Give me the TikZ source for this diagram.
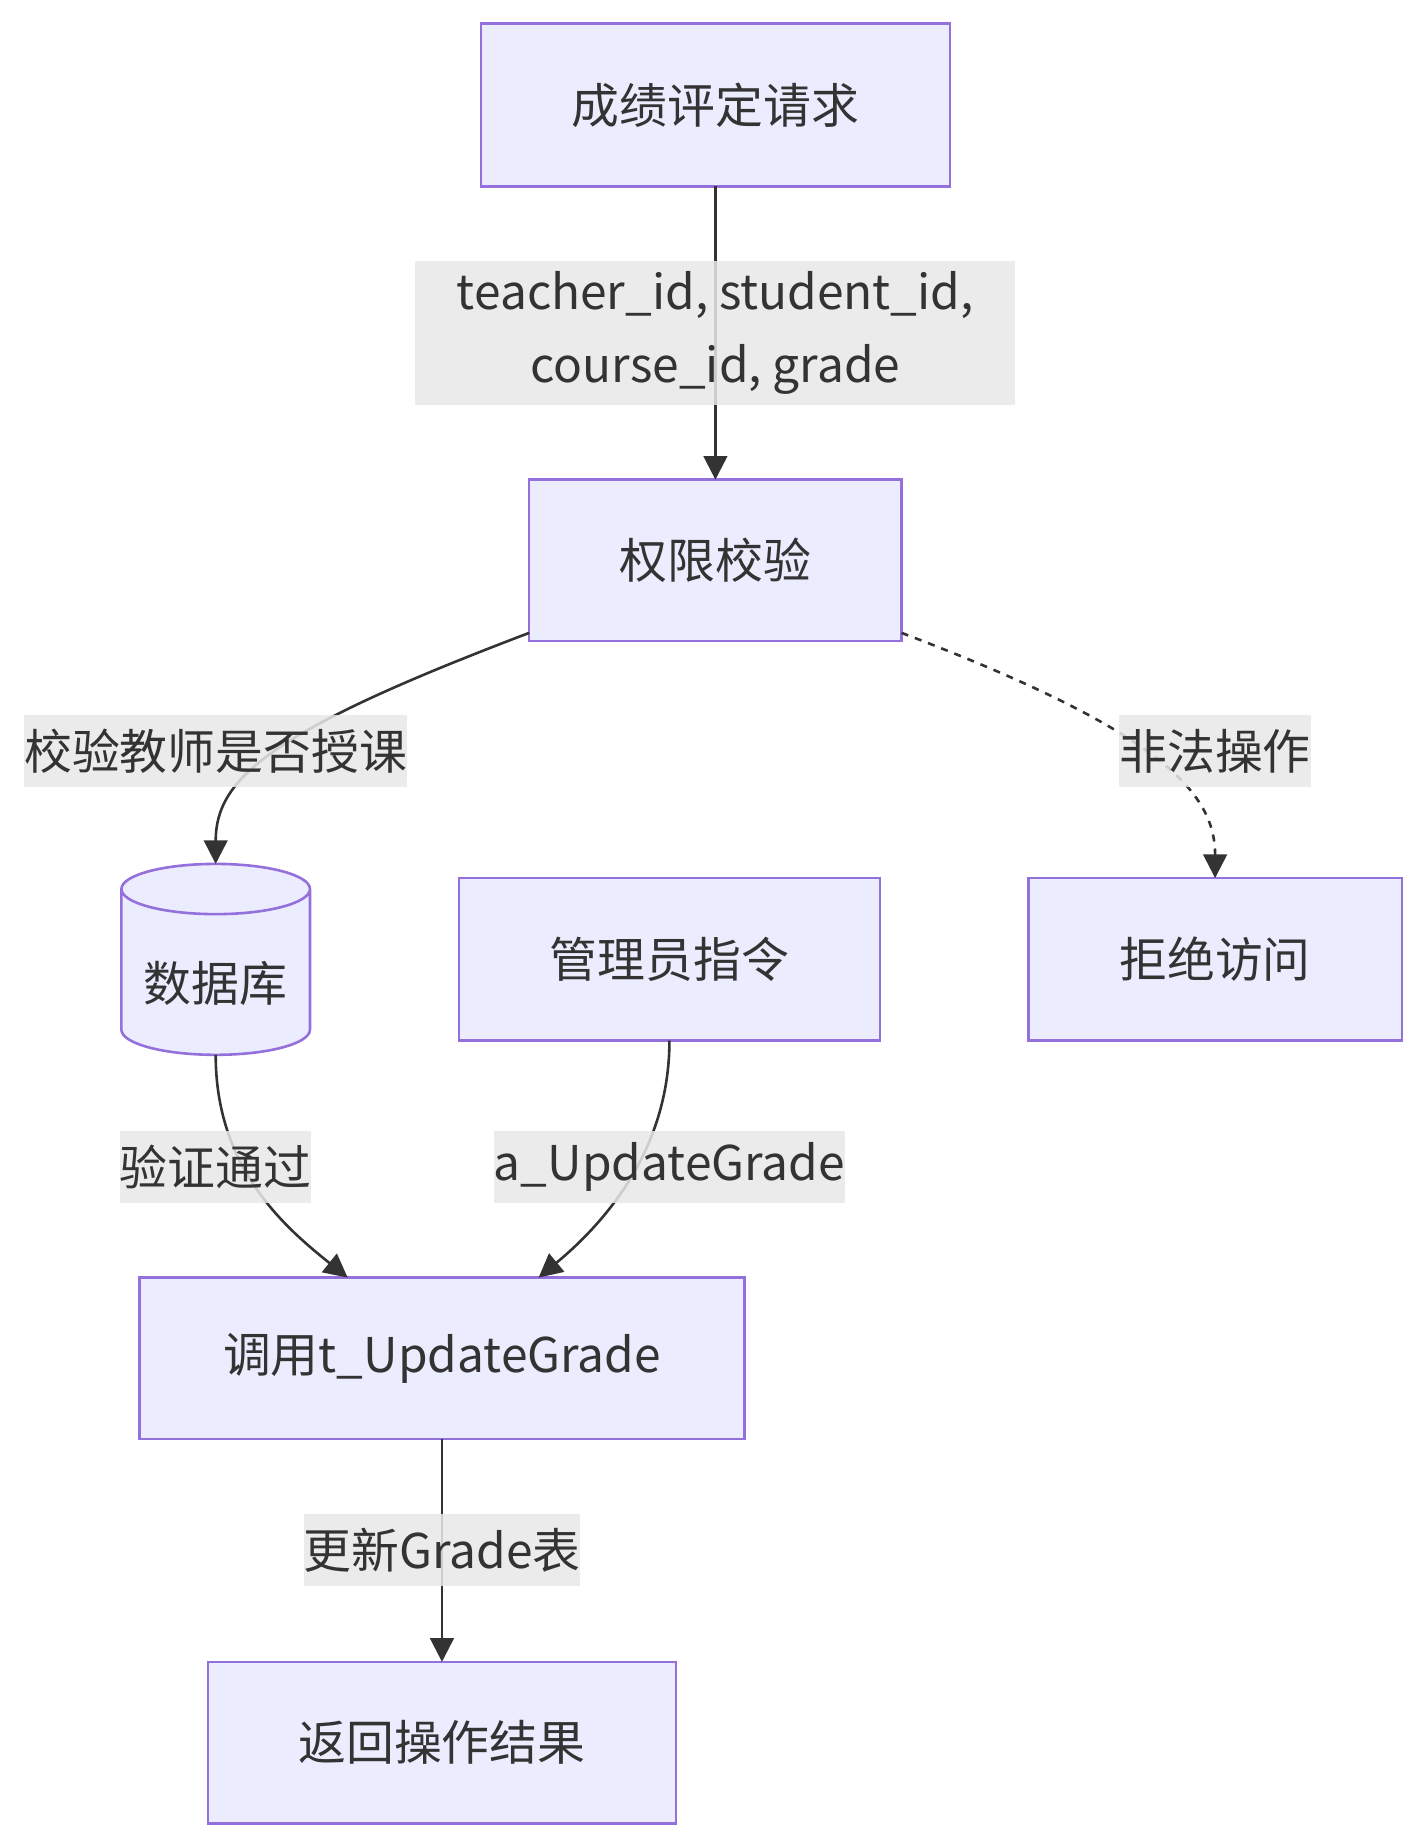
\documentclass[tikz,border=0pt]{standalone}
\usepackage{fontspec}
\setmainfont{Noto Sans CJK SC}
\usetikzlibrary{positioning,shapes.geometric,arrows.meta}

\definecolor{boxfill}{HTML}{ECECFF}
\definecolor{boxline}{HTML}{9370DB}
\definecolor{ink}{HTML}{333333}
\definecolor{lblbg}{HTML}{E8E8E8}

\tikzset{
	proc/.style={draw=boxline, fill=boxfill, line width=1.1pt, text=ink, inner sep=0pt, outer sep=0pt, minimum height=68.5pt},
	store/.style={cylinder, shape border rotate=90, aspect=0.35, draw=boxline, fill=boxfill, line width=1.1pt, text=ink, minimum width=80pt, minimum height=81pt, inner sep=0pt, outer sep=0pt},
	elabel/.style={fill=lblbg, fill opacity=0.85, text opacity=1, text=ink, inner xsep=0pt, inner ysep=0pt, minimum height=30.5pt},
	flow/.style={draw=ink, line width=1.1pt, -{Triangle[length=10pt,width=10pt]}},
	dottedflow/.style={flow, dash pattern=on 3pt off 3pt},
}

\begin{document}
\begin{tikzpicture}[font=\fontsize{20.3pt}{31pt}\selectfont]
	\useasboundingbox (0,0) rectangle (605pt,-784pt);

	\node[proc, minimum width=199pt, minimum height=69pt] (req) at (303.5pt,-44.5pt) {成绩评定请求};
	\node[proc, minimum width=158pt, below=124.5pt of req] (auth) {权限校验};

	\node[store, below=94.5pt of auth, xshift=-212pt] (db) {\raisebox{-4.5pt}[\height][\depth]{数据库}};
	\node[proc, minimum width=178.5pt, minimum height=69pt, below=100.5pt of auth, xshift=-19.5pt] (admin) {管理员指令};
	\node[proc, minimum width=158.5pt, minimum height=69pt, right=63pt of admin] (deny) {拒绝访问};

	\node[proc, minimum width=256.5pt, below=100.5pt of admin, xshift=-96.5pt] (call) {调用t\_UpdateGrade};
	\node[proc, minimum width=198.5pt, below=94.5pt of call] (ret) {返回操作结果};

	\draw[flow] (req) -- node[elabel, minimum width=254.5pt, minimum height=61pt, align=center] (lblids) {teacher\_id, student\_id,\\course\_id, grade} (auth);
	\draw[flow] ([yshift=3.5pt]auth.south west) .. controls +(-109.5pt,-41.5pt) and +(0,36.5pt) .. (db.north);
	\draw[dottedflow] ([yshift=3.5pt]auth.south east) .. controls +(109.5pt,-41.5pt) and +(0,36.5pt) .. (deny.north);
	\draw[flow] (db.south) .. controls +(0,-47.5pt) and +(-27.5pt,22pt) .. ([xshift=-40pt]call.north);
	\draw[flow] (admin.south) .. controls +(0,-47.5pt) and +(26.5pt,22pt) .. ([xshift=41pt]call.north);
	\draw[flow] (call) -- node[elabel] (lblupd) {更新Grade表} (ret);

	\node[elabel, above=32.5pt of db] (lblteach) {校验教师是否授课};
	\node[elabel, above=38.5pt of deny] (lblillegal) {非法操作};
	\node[elabel, below=32pt of db] (lblpass) {验证通过};
	\node[elabel, below=38pt of admin] (lblcmd) {a\_UpdateGrade};

\end{tikzpicture}
\end{document}
